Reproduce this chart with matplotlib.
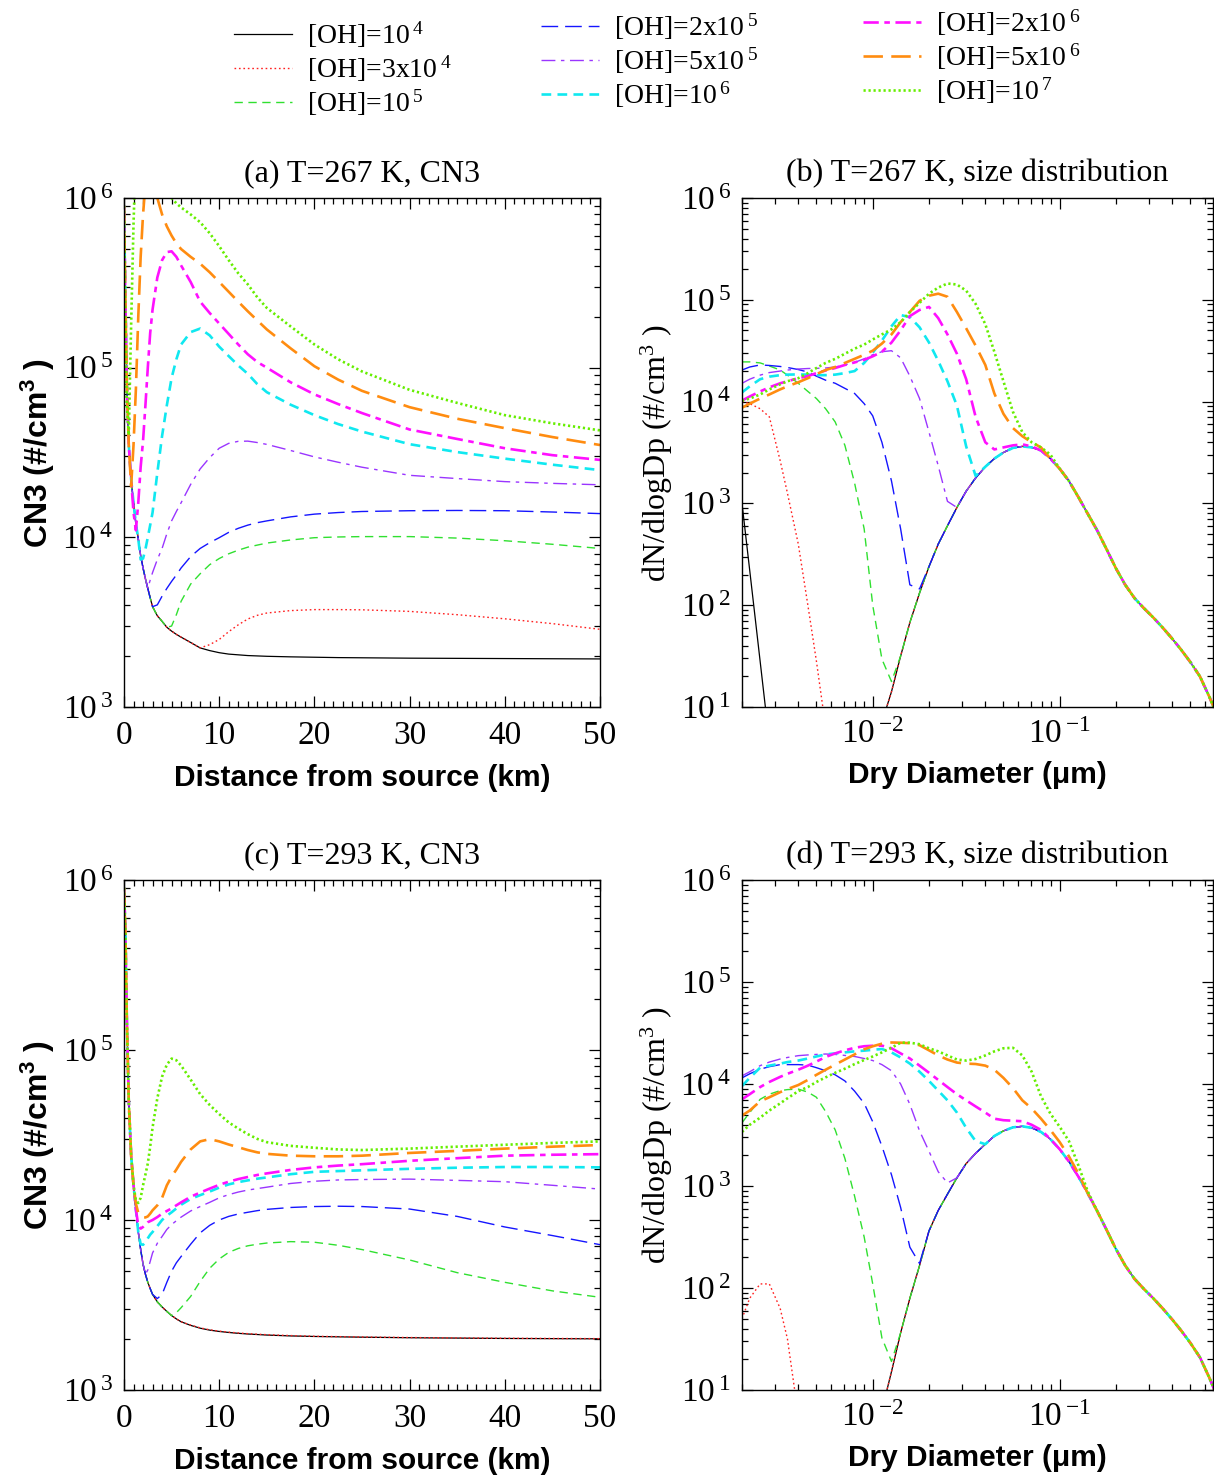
import matplotlib
matplotlib.use("Agg")
import matplotlib.pyplot as plt
from matplotlib.ticker import MultipleLocator, LogLocator, NullFormatter, FuncFormatter
from matplotlib.lines import Line2D
import numpy as np

plt.rcParams["font.family"] = "Liberation Serif"
plt.rcParams["mathtext.fontset"] = "custom"
plt.rcParams["mathtext.rm"] = "Liberation Serif"
plt.rcParams["mathtext.default"] = "regular"
plt.rcParams["lines.scale_dashes"] = False

nan = float("nan")

oh_labels = ["[OH]=10$^{\\,4}$", "[OH]=3x10$^{\\,4}$", "[OH]=10$^{\\,5}$",
             "[OH]=2x10$^{\\,5}$", "[OH]=5x10$^{\\,5}$", "[OH]=10$^{\\,6}$",
             "[OH]=2x10$^{\\,6}$", "[OH]=5x10$^{\\,6}$", "[OH]=10$^{\\,7}$"]

# ---- CN3 vs distance (km), shared sampling points for (a) and (c)
distance_km = [0, 0.15, 0.3, 0.5, 0.75, 1.0, 1.25, 1.5, 1.75, 2.0, 2.25, 2.5, 2.75,
               3.0, 3.5, 4.0, 4.5, 5.0, 5.5, 6.0, 7, 8, 9, 10, 11, 12, 13, 14, 15,
               17.5, 20, 22.5, 25, 30, 35, 40, 45, 50]

# (a) T=267 K
a_oh_1e4 = [9e5, 2.5e5, 8e4, 3.5e4, 2.2e4, 1.6e4, 1.2e4, 9.8e3, 7.8e3, 6.6e3, 5.7e3,
            5.0e3, 4.4e3, 3.9e3, 3.45e3, 3.2e3, 2.95e3, 2.8e3, 2.68e3, 2.58e3, 2.4e3,
            2.23e3, 2.15e3, 2.09e3, 2.05e3, 2.03e3, 2.01e3, 2.0e3, 1.99e3, 1.975e3,
            1.965e3, 1.955e3, 1.95e3, 1.94e3, 1.935e3, 1.93e3, 1.925e3, 1.92e3]
a_oh_3e4 = a_oh_1e4[:22] + [2.33e3, 2.5e3, 2.78e3, 3.05e3, 3.3e3, 3.47e3, 3.58e3, 3.7e3,
                            3.75e3, 3.75e3, 3.74e3, 3.66e3, 3.5e3, 3.31e3, 3.1e3, 2.87e3]
a_oh_1e5 = a_oh_1e4[:17] + [3.0e3, 3.5e3, 4.2e3, 5.3e3, 6.1e3, 6.9e3, 7.5e3, 8.0e3, 8.4e3,
                            8.75e3, 9.0e3, 9.25e3, 9.65e3, 9.95e3, 1.005e4, 1.01e4, 1.01e4,
                            9.9e3, 9.55e3, 9.1e3, 8.6e3]
a_oh_2e5 = a_oh_1e4[:14] + [4.0e3, 4.5e3, 5.0e3, 5.5e3, 6.0e3, 6.6e3, 7.7e3, 8.6e3, 9.3e3,
                            9.95e3, 1.07e4, 1.13e4, 1.18e4, 1.22e4, 1.25e4, 1.32e4, 1.37e4,
                            1.40e4, 1.42e4, 1.435e4, 1.44e4, 1.435e4, 1.41e4, 1.38e4]
a_oh_5e5 = a_oh_1e4[:12] + [5.6e3, 6.2e3, 7.4e3, 8.6e3, 1.05e4, 1.25e4, 1.42e4, 1.6e4, 2.05e4,
                            2.53e4, 2.95e4, 3.35e4, 3.58e4, 3.68e4, 3.69e4, 3.62e4, 3.53e4,
                            3.25e4, 2.98e4, 2.77e4, 2.59e4, 2.32e4, 2.22e4, 2.13e4, 2.08e4, 2.04e4]
a_oh_1e6 = a_oh_1e4[:8] + [7.4e3, 7.5e3, 8.5e3, 1.0e4, 1.18e4, 1.4e4, 2.4e4, 3.96e4, 6.0e4,
                           8.7e4, 1.12e5, 1.37e5, 1.62e5, 1.7e5, 1.55e5, 1.33e5, 1.17e5, 1.03e5,
                           9.2e4, 8.0e4, 7.17e4, 6.05e4, 5.25e4, 4.65e4, 4.2e4, 3.54e4, 3.18e4,
                           2.91e4, 2.68e4, 2.49e4]
a_oh_2e6 = a_oh_1e4[:5] + [1.4e4, 1.1e4, 1.6e4, 2.6e4, 3.7e4, 6.0e4, 1.0e5, 1.6e5, 2.2e5,
                           3.4e5, 4.3e5, 4.8e5, 4.85e5, 4.5e5, 4.0e5, 3.2e5, 2.45e5, 2.1e5,
                           1.82e5, 1.58e5, 1.37e5, 1.2e5, 1.08e5, 1.0e5, 8.2e4, 6.96e4, 6.1e4,
                           5.4e4, 4.32e4, 3.8e4, 3.35e4, 3.05e4, 2.86e4]
a_oh_5e6 = a_oh_1e4[:4] + [2.0e4, 3.5e4, 7.5e4, 2.0e5, 4.5e5, 8.0e5, 1.2e6, 1.5e6, 1.6e6,
                           1.4e6, 1.0e6, 8.0e5, 6.8e5, 6.0e5, 5.4e5, 5.0e5, 4.5e5, 4.1e5,
                           3.65e5, 3.2e5, 2.8e5, 2.45e5, 2.15e5, 1.9e5, 1.68e5, 1.3e5, 1.02e5,
                           8.5e4, 7.3e4, 5.85e4, 5.0e4, 4.4e4, 3.9e4, 3.5e4]
a_oh_1e7 = [9e5, 2.0e5, 6.0e4, 4.0e4, 1.8e5, 7.0e5, 2.0e6, 3.0e6, 3.5e6, 3.8e6, 3.8e6, 3.6e6,
            3.3e6, 3.0e6, 2.3e6, 1.7e6, 1.3e6, 1.0e6, 9.3e5, 8.8e5, 8.0e5, 7.2e5, 6.2e5,
            5.2e5, 4.3e5, 3.6e5, 3.1e5, 2.6e5, 2.25e5, 1.75e5, 1.37e5, 1.12e5, 9.5e4, 7.4e4,
            6.2e4, 5.25e4, 4.7e4, 4.27e4]

# (c) T=293 K
c_oh_1e4 = [9e5, 5e5, 1.5e5, 5e4, 2.4e4, 1.6e4, 1.15e4, 8.5e3, 6.7e3, 5.5e3, 4.8e3, 4.3e3,
            3.95e3, 3.65e3, 3.3e3, 3.08e3, 2.9e3, 2.74e3, 2.62e3, 2.52e3, 2.4e3, 2.31e3,
            2.25e3, 2.21e3, 2.18e3, 2.155e3, 2.135e3, 2.12e3, 2.105e3, 2.08e3, 2.065e3,
            2.055e3, 2.045e3, 2.03e3, 2.02e3, 2.01e3, 2.005e3, 2.0e3]
c_oh_3e4 = c_oh_1e4[:20] + [2.41e3, 2.32e3, 2.26e3, 2.22e3, 2.19e3, 2.165e3, 2.145e3, 2.13e3,
                            2.115e3, 2.09e3, 2.07e3, 2.06e3, 2.05e3, 2.035e3, 2.025e3,
                            2.015e3, 2.01e3, 2.005e3]
c_oh_1e5 = c_oh_1e4[:18] + [2.85e3, 3.05e3, 3.55e3, 4.35e3, 5.2e3, 5.9e3, 6.45e3, 6.8e3,
                            7.05e3, 7.2e3, 7.32e3, 7.46e3, 7.4e3, 7.1e3, 6.7e3, 5.82e3, 4.9e3,
                            4.3e3, 3.83e3, 3.51e3]
c_oh_2e5 = c_oh_1e4[:14] + [3.45e3, 3.65e3, 4.3e3, 5.0e3, 5.6e3, 6.1e3, 7.2e3, 8.4e3, 9.3e3,
                            1.0e4, 1.05e4, 1.085e4, 1.11e4, 1.135e4, 1.155e4, 1.185e4, 1.2e4,
                            1.205e4, 1.2e4, 1.16e4, 1.05e4, 9.1e3, 8.1e3, 7.16e3]
c_oh_5e5 = c_oh_1e4[:11] + [5.08e3, 5.7e3, 6.4e3, 7.3e3, 8.0e3, 8.8e3, 9.4e3, 9.9e3, 1.04e4,
                            1.13e4, 1.2e4, 1.27e4, 1.35e4, 1.41e4, 1.46e4, 1.5e4, 1.53e4,
                            1.56e4, 1.64e4, 1.69e4, 1.72e4, 1.73e4, 1.74e4, 1.71e4, 1.68e4,
                            1.6e4, 1.52e4]
c_oh_1e6 = c_oh_1e4[:8] + [7.2e3, 7.15e3, 7.4e3, 7.8e3, 8.2e3, 8.5e3, 9.2e3, 1.0e4, 1.06e4,
                           1.11e4, 1.17e4, 1.23e4, 1.33e4, 1.4e4, 1.47e4, 1.55e4, 1.62e4,
                           1.67e4, 1.71e4, 1.75e4, 1.78e4, 1.86e4, 1.92e4, 1.94e4, 1.96e4,
                           2.0e4, 2.03e4, 2.05e4, 2.05e4, 2.04e4]
c_oh_2e6 = c_oh_1e4[:7] + [9.3e3, 8.9e3, 9.1e3, 9.4e3, 9.7e3, 9.85e3, 1.0e4, 1.04e4, 1.09e4,
                           1.13e4, 1.17e4, 1.22e4, 1.27e4, 1.37e4, 1.45e4, 1.53e4, 1.61e4,
                           1.68e4, 1.74e4, 1.79e4, 1.84e4, 1.88e4, 1.97e4, 2.04e4, 2.09e4,
                           2.13e4, 2.23e4, 2.31e4, 2.39e4, 2.42e4, 2.44e4]
c_oh_5e6 = c_oh_1e4[:6] + [1.25e4, 1.1e4, 1.06e4, 1.04e4, 1.035e4, 1.05e4, 1.09e4, 1.14e4,
                           1.22e4, 1.35e4, 1.6e4, 1.8e4, 1.98e4, 2.2e4, 2.6e4, 2.9e4, 2.99e4,
                           2.9e4, 2.78e4, 2.68e4, 2.58e4, 2.5e4, 2.45e4, 2.39e4, 2.37e4,
                           2.37e4, 2.39e4, 2.48e4, 2.55e4, 2.63e4, 2.7e4, 2.76e4]
c_oh_1e7 = c_oh_1e4[:6] + [1.3e4, 1.26e4, 1.35e4, 1.6e4, 1.85e4, 2.15e4, 2.7e4, 3.5e4, 5.2e4,
                           6.97e4, 8.2e4, 8.9e4, 8.7e4, 8.1e4, 6.7e4, 5.5e4, 4.75e4, 4.2e4,
                           3.75e4, 3.45e4, 3.2e4, 3.0e4, 2.87e4, 2.73e4, 2.66e4, 2.6e4,
                           2.58e4, 2.63e4, 2.7e4, 2.77e4, 2.84e4, 2.9e4]

# ---- size distributions: dry diameter (um), dN/dlogDp given as log10 values
diameter_um = [0.0020, 0.0022, 0.0025, 0.0028, 0.0032, 0.0035, 0.0040, 0.0045, 0.0050,
               0.0056, 0.0063, 0.0071, 0.0080, 0.0090, 0.0100, 0.0112, 0.0126, 0.0141,
               0.0158, 0.0178, 0.0200, 0.0224, 0.0251, 0.0282, 0.0316, 0.0355, 0.0400,
               0.0447, 0.0500, 0.0562, 0.0631, 0.0708, 0.0794, 0.0891, 0.1000, 0.112,
               0.126, 0.141, 0.158, 0.178, 0.200, 0.224, 0.251, 0.282, 0.316, 0.355,
               0.400, 0.447, 0.500, 0.562, 0.631, 0.700]

# (b) T=267 K
b_hump = [nan] * 15 + [0.85, 1.15, 1.5, 1.83, 2.12, 2.38, 2.6, 2.78, 2.96, 3.12, 3.25, 3.36,
                       3.44, 3.5, 3.545, 3.56, 3.55, 3.52, 3.44, 3.34, 3.22, 3.06, 2.9, 2.74,
                       2.55, 2.36, 2.2, 2.07, 1.97, 1.88, 1.78, 1.67, 1.56, 1.44, 1.3, 1.1, 0.9]
b_oh_1e4 = [3.0, 2.34, 1.45, 0.66] + [nan] * 11
b_oh_3e4 = [4.0, 3.98, 3.93, 3.85, 3.42, 3.1, 2.6, 2.0, 1.45, 0.8] + [nan] * 5
b_oh_1e5 = [4.39, 4.39, 4.38, 4.35, 4.31, 4.26, 4.18, 4.1, 4.03, 3.93, 3.8, 3.57, 3.2, 2.75,
            2.0, 1.47, 1.25]
b_oh_2e5 = [4.31, 4.34, 4.36, 4.355, 4.345, 4.335, 4.315, 4.29, 4.25, 4.21, 4.18, 4.13, 4.08,
            3.98, 3.86, 3.6, 3.22, 2.75, 2.2, 2.16]
b_oh_5e5 = [4.18, 4.22, 4.26, 4.285, 4.3, 4.31, 4.32, 4.325, 4.327, 4.33, 4.34, 4.36, 4.385,
            4.42, 4.46, 4.49, 4.5, 4.43, 4.25, 4.03, 3.70, 3.37, 3.02]
b_oh_1e6 = [4.09, 4.15, 4.22, 4.245, 4.26, 4.265, 4.267, 4.265, 4.26, 4.26, 4.265, 4.28, 4.3,
            4.38, 4.48, 4.6, 4.74, 4.85, 4.83, 4.73, 4.58, 4.40, 4.2, 3.96, 3.56, 3.27]
b_oh_2e6 = [4.01, 4.05, 4.1, 4.14, 4.18, 4.2, 4.23, 4.25, 4.28, 4.305, 4.33, 4.36, 4.385,
            4.41, 4.445, 4.49, 4.58, 4.7, 4.84, 4.9, 4.93, 4.82, 4.66, 4.47, 4.22, 3.85, 3.6,
            3.53, 3.55, 3.57, 3.58, 3.56]
b_oh_5e6 = [3.94, 3.98, 4.03, 4.07, 4.12, 4.15, 4.19, 4.23, 4.27, 4.31, 4.34, 4.38, 4.42,
            4.46, 4.5, 4.57, 4.66, 4.78, 4.88, 4.99, 5.04, 5.06, 5.03, 4.88, 4.72, 4.55, 4.36,
            4.08, 3.88, 3.74, 3.66, 3.6, 3.55]
b_oh_1e7 = [4.01, 4.03, 4.07, 4.12, 4.17, 4.2, 4.23, 4.28, 4.33, 4.38, 4.42, 4.47, 4.52,
            4.56, 4.61, 4.66, 4.71, 4.78, 4.88, 4.97, 5.06, 5.12, 5.16, 5.15, 5.09, 4.96, 4.76,
            4.49, 4.2, 3.9, 3.7, 3.6, 3.55, 3.48]

# (d) T=293 K
d_hump = [nan] * 15 + [0.8, 1.18, 1.56, 1.9, 2.22, 2.56, 2.76, 2.92, 3.08, 3.22, 3.32, 3.41,
                       3.49, 3.54, 3.575, 3.585, 3.57, 3.53, 3.46, 3.36, 3.24, 3.09, 2.93,
                       2.76, 2.57, 2.38, 2.22, 2.09, 1.99, 1.9, 1.8, 1.69, 1.58, 1.46, 1.32,
                       1.12, 0.92]
d_oh_1e4 = [nan] * 15
d_oh_3e4 = [1.7, 1.9, 2.04, 2.04, 1.8, 1.5, 0.75] + [nan] * 8
d_oh_1e5 = [3.62, 3.72, 3.85, 3.9, 3.935, 3.945, 3.95, 3.92, 3.87, 3.73, 3.55, 3.27, 2.9,
            2.5, 2.04, 1.51, 1.28]
d_oh_2e5 = [4.06, 4.1, 4.145, 4.17, 4.19, 4.19, 4.19, 4.185, 4.16, 4.13, 4.09, 4.03, 3.93,
            3.81, 3.63, 3.39, 3.11, 2.79, 2.4, 2.24]
d_oh_5e5 = [4.08, 4.12, 4.18, 4.215, 4.245, 4.26, 4.278, 4.285, 4.29, 4.294, 4.29, 4.28,
            4.27, 4.25, 4.23, 4.19, 4.13, 4.0, 3.8, 3.54, 3.34, 3.14, 3.03]
d_oh_1e6 = [3.98, 4.06, 4.16, 4.18, 4.2, 4.215, 4.23, 4.25, 4.27, 4.29, 4.3, 4.31, 4.32,
            4.327, 4.335, 4.343, 4.31, 4.26, 4.2, 4.12, 4.03, 3.935, 3.84, 3.72, 3.57, 3.44]
d_oh_2e6 = [3.85, 3.9, 3.97, 4.02, 4.07, 4.1, 4.14, 4.18, 4.22, 4.265, 4.3, 4.33, 4.355,
            4.37, 4.375, 4.376, 4.35, 4.3, 4.25, 4.18, 4.11, 4.04, 3.97, 3.9, 3.84, 3.78,
            3.72, 3.66, 3.645, 3.64, 3.635, 3.6, 3.55]
d_oh_5e6 = [3.69, 3.74, 3.83, 3.87, 3.92, 3.95, 3.99, 4.04, 4.09, 4.14, 4.19, 4.24, 4.29,
            4.34, 4.37, 4.395, 4.407, 4.405, 4.40, 4.38, 4.33, 4.28, 4.24, 4.21, 4.2, 4.196,
            4.18, 4.14, 4.06, 3.96, 3.84, 3.76, 3.66, 3.55, 3.43, 3.29, 3.12]
d_oh_1e7 = [3.53, 3.6, 3.67, 3.74, 3.81, 3.86, 3.93, 3.97, 4.02, 4.065, 4.11, 4.15, 4.195,
            4.235, 4.27, 4.31, 4.355, 4.405, 4.405, 4.39, 4.35, 4.32, 4.28, 4.24, 4.23, 4.245,
            4.28, 4.32, 4.35, 4.355, 4.28, 4.12, 3.88, 3.71, 3.58, 3.44, 3.2, 2.95]


def with_hump(own, hump):
    vals = own + hump[len(own):]
    return 10 ** np.array(vals)


styles = [
    dict(color="black", lw=0.9, ls="-"),
    dict(color="#ff2020", lw=1.0, ls=(0, (1.2, 2.0))),
    dict(color="#30e030", lw=1.0, ls=(0, (6, 4))),
    dict(color="#1515ff", lw=1.0, ls=(0, (12, 5))),
    dict(color="#9a35ff", lw=1.0, ls=(0, (10, 4, 2.5, 4))),
    dict(color="#10e8f0", lw=1.9, ls=(0, (7, 4.5))),
    dict(color="#ff10ff", lw=1.9, ls=(0, (11, 4, 4, 4))),
    dict(color="#ff8c10", lw=1.9, ls=(0, (14, 6))),
    dict(color="#66ee00", lw=1.9, ls=(0, (1.6, 2.0))),
]

a_series = [a_oh_1e4, a_oh_3e4, a_oh_1e5, a_oh_2e5, a_oh_5e5, a_oh_1e6, a_oh_2e6, a_oh_5e6, a_oh_1e7]
c_series = [c_oh_1e4, c_oh_3e4, c_oh_1e5, c_oh_2e5, c_oh_5e5, c_oh_1e6, c_oh_2e6, c_oh_5e6, c_oh_1e7]
b_series = [b_oh_1e4, b_oh_3e4, b_oh_1e5, b_oh_2e5, b_oh_5e5, b_oh_1e6, b_oh_2e6, b_oh_5e6, b_oh_1e7]
d_series = [d_oh_1e4, d_oh_3e4, d_oh_1e5, d_oh_2e5, d_oh_5e5, d_oh_1e6, d_oh_2e6, d_oh_5e6, d_oh_1e7]

W, H = 1214, 1479
fig = plt.figure(figsize=(W / 100, H / 100), dpi=100)


def add_ax(left, top, right, bottom):
    return fig.add_axes([left / W, 1 - bottom / H, (right - left) / W, (bottom - top) / H])


ax_a = add_ax(124, 198, 600, 707)
ax_b = add_ax(742, 198, 1213, 707)
ax_c = add_ax(124, 880, 600, 1390)
ax_d = add_ax(742, 880, 1213, 1390)

sans_bold = dict(family="Liberation Sans", weight="bold", size=21.5)


def pow10(v, pos):
    # "10" followed by a slightly detached superscript exponent
    e = int(round(np.log10(v)))
    return "10$^{\\,{%d}}$" % e


def style_axes(ax, title, xpad):
    ax.set_yscale("log")
    ax.yaxis.set_major_locator(LogLocator(base=10, numticks=10))
    ax.yaxis.set_minor_locator(LogLocator(base=10, subs=np.arange(2, 10), numticks=20))
    ax.yaxis.set_major_formatter(FuncFormatter(pow10))
    ax.yaxis.set_minor_formatter(NullFormatter())
    ax.tick_params(which="both", direction="in", top=True, right=True, width=0.9)
    ax.tick_params(which="major", length=8, labelsize=24)
    ax.tick_params(which="minor", length=4)
    ax.tick_params(axis="y", which="major", pad=8)
    ax.tick_params(axis="x", which="major", pad=xpad)
    for sp in ax.spines.values():
        sp.set_linewidth(1.0)
    ax.set_title(title, fontsize=23, pad=12)


for ax, series, title in [(ax_a, a_series, "(a) T=267 K, CN3"),
                          (ax_c, c_series, "(c) T=293 K, CN3")]:
    for vals, st in zip(series, styles):
        ax.plot(distance_km, vals, color=st["color"], lw=st["lw"], linestyle=st["ls"])
    style_axes(ax, title, 10)
    ax.set_xlim(0, 50)
    ax.set_ylim(1e3, 1e6)
    ax.xaxis.set_major_locator(MultipleLocator(10))
    ax.xaxis.set_minor_locator(MultipleLocator(1))
    ax.set_xlabel("Distance from source (km)", labelpad=9, **sans_bold)
    ax.set_ylabel("CN3 (#/cm$^3$ )", labelpad=4, family="Liberation Sans",
                  weight="bold", size=23)

for ax, series, hump, title in [(ax_b, b_series, b_hump, "(b) T=267 K, size distribution"),
                                (ax_d, d_series, d_hump, "(d) T=293 K, size distribution")]:
    for own, st in zip(series, styles):
        ax.plot(diameter_um, with_hump(own, hump), color=st["color"], lw=st["lw"],
                linestyle=st["ls"])
    ax.set_xscale("log")
    style_axes(ax, title, 9)
    ax.xaxis.set_major_locator(LogLocator(base=10, numticks=10))
    ax.xaxis.set_minor_locator(LogLocator(base=10, subs=np.arange(2, 10), numticks=20))
    ax.xaxis.set_major_formatter(FuncFormatter(pow10))
    ax.xaxis.set_minor_formatter(NullFormatter())
    ax.set_xlim(0.002, 0.66)
    ax.set_ylim(10, 1e6)
    ax.set_xlabel("Dry Diameter (\u03bcm)", labelpad=8, **sans_bold)
    ax.set_ylabel("dN/dlogDp (#/cm$^3$ )", labelpad=4, size=23)

# legend in three columns across the top
handles = [Line2D([], [], color=st["color"], lw=st["lw"], linestyle=st["ls"]) for st in styles]
col_pos = [(228, 14), (535, 6), (857, 2)]
for k, (px, py) in enumerate(col_pos):
    fig.legend(handles[3 * k:3 * k + 3], oh_labels[3 * k:3 * k + 3], loc="upper left",
               bbox_to_anchor=(px / W, 1 - py / H), frameon=False, fontsize=20,
               handlelength=2.1, handletextpad=0.55, labelspacing=0.12,
               borderpad=0.2, borderaxespad=0)

fig.savefig("out.png", dpi=100, facecolor="white")
